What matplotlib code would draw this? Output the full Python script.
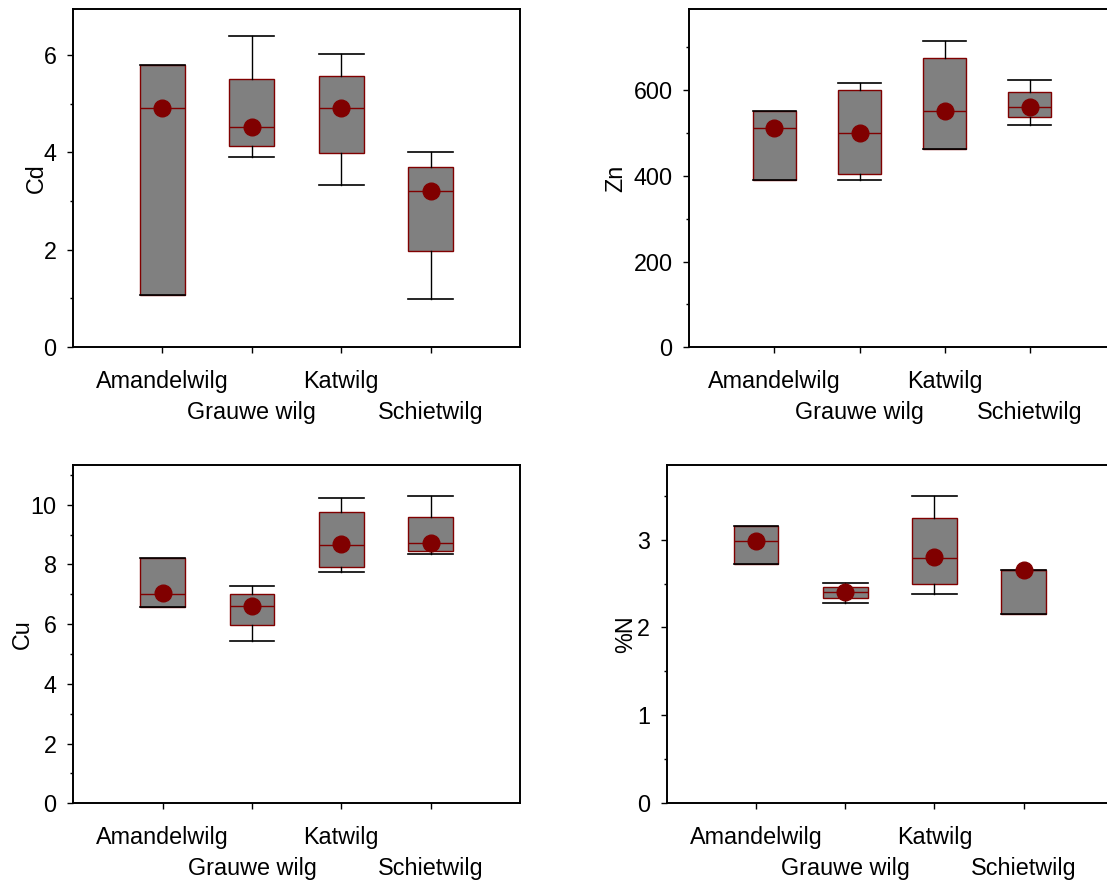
import matplotlib
matplotlib.use("Agg")
import matplotlib.pyplot as plt
from matplotlib.ticker import MultipleLocator

plt.rcParams["font.family"] = ["Liberation Sans", "DejaVu Sans"]

categories = ["Amandelwilg", "Grauwe wilg", "Katwilg", "Schietwilg"]

cd_whislo = [1.07, 3.90, 3.33, 0.98]
cd_q1 = [1.07, 4.14, 3.98, 1.98]
cd_med = [4.92, 4.52, 4.91, 3.20]
cd_q3 = [5.80, 5.52, 5.58, 3.71]
cd_whishi = [5.80, 6.40, 6.02, 4.00]
cd_mean = [4.92, 4.52, 4.91, 3.20]

zn_whislo = [390, 390, 463, 518]
zn_q1 = [390, 404, 463, 537]
zn_med = [511, 501, 551, 560]
zn_q3 = [552, 600, 676, 596]
zn_whishi = [552, 616, 716, 625]
zn_mean = [512, 501, 551, 560]

cu_whislo = [6.58, 5.44, 7.74, 8.35]
cu_q1 = [6.58, 5.97, 7.91, 8.44]
cu_med = [7.01, 6.62, 8.64, 8.71]
cu_q3 = [8.20, 7.00, 9.74, 9.59]
cu_whishi = [8.20, 7.29, 10.21, 10.30]
cu_mean = [7.03, 6.62, 8.67, 8.72]

n_whislo = [2.726, 2.280, 2.387, 2.155]
n_q1 = [2.726, 2.337, 2.493, 2.155]
n_med = [2.988, 2.402, 2.798, 2.653]
n_q3 = [3.163, 2.463, 3.247, 2.653]
n_whishi = [3.163, 2.505, 3.502, 2.653]
n_mean = [2.990, 2.406, 2.800, 2.657]

W, H = 1107, 882
fig = plt.figure(figsize=(W / 100, H / 100), dpi=100)
fig.patch.set_facecolor("white")

BOX_FACE = "#808080"
DARK_RED = "#800000"
FS = 16.8
ROW1_PAD = 12.7
ROW2_PAD = 34.8


def px_axes(left, top, right, bottom):
    return fig.add_axes([left / W, 1 - bottom / H, (right - left) / W, (bottom - top) / H])


def panel(ax, whislo, q1, med, q3, whishi, mean, ylabel, ymax, major, minor, label_x):
    stats = []
    for i in range(len(categories)):
        stats.append(dict(whislo=whislo[i], q1=q1[i], med=med[i], q3=q3[i],
                          whishi=whishi[i], mean=mean[i], fliers=[]))
    positions = list(range(1, len(categories) + 1))
    ax.bxp(stats, positions=positions, widths=0.5, capwidths=0.5,
           patch_artist=True, showmeans=True, showfliers=False,
           boxprops=dict(facecolor=BOX_FACE, edgecolor=DARK_RED, linewidth=1.0, zorder=2),
           medianprops=dict(color=DARK_RED, linewidth=1.0, zorder=2.5),
           whiskerprops=dict(color="black", linewidth=1.0, zorder=3),
           capprops=dict(color="black", linewidth=1.2, zorder=3),
           meanprops=dict(marker="o", markerfacecolor=DARK_RED, markeredgecolor=DARK_RED,
                          markersize=12, zorder=4))
    ax.set_xlim(0, 5)
    ax.set_ylim(0, ymax)
    ax.set_xticks(positions)
    ax.set_xticklabels(categories, fontsize=FS)
    ax.yaxis.set_major_locator(MultipleLocator(major))
    ax.yaxis.set_minor_locator(MultipleLocator(minor))
    ax.tick_params(axis="y", which="major", direction="out", length=4.5, width=1.0,
                   labelsize=FS, pad=7.5)
    ax.tick_params(axis="y", which="minor", direction="out", length=2.3, width=1.0)
    ax.tick_params(axis="x", which="major", direction="out", length=4, width=1.0)
    # staggered category labels: alternate between two rows
    for i, tick in enumerate(ax.xaxis.get_major_ticks()):
        tick.set_pad(ROW1_PAD if i % 2 == 0 else ROW2_PAD)
    for s in ax.spines.values():
        s.set_linewidth(1.4)
    ax.set_ylabel(ylabel, fontsize=FS)
    ax.yaxis.set_label_coords(label_x, 0.5)


ax_cd = px_axes(73, 9, 520, 347)
panel(ax_cd, cd_whislo, cd_q1, cd_med, cd_q3, cd_whishi, cd_mean, "Cd", 6.95, 2, 1, -0.056)

ax_zn = px_axes(689.3, 9.3, 1114.8, 347.3)
panel(ax_zn, zn_whislo, zn_q1, zn_med, zn_q3, zn_whishi, zn_mean, "Zn", 789, 200, 100, -0.145)

ax_cu = px_axes(73.3, 465, 520, 803.3)
panel(ax_cu, cu_whislo, cu_q1, cu_med, cu_q3, cu_whishi, cu_mean, "Cu", 11.33, 2, 1, -0.088)

ax_n = px_axes(666.7, 465, 1113, 802.7)
panel(ax_n, n_whislo, n_q1, n_med, n_q3, n_whishi, n_mean, "%N", 3.855, 1, 0.5, -0.066)

fig.savefig("out.png", dpi=100, facecolor="white")
